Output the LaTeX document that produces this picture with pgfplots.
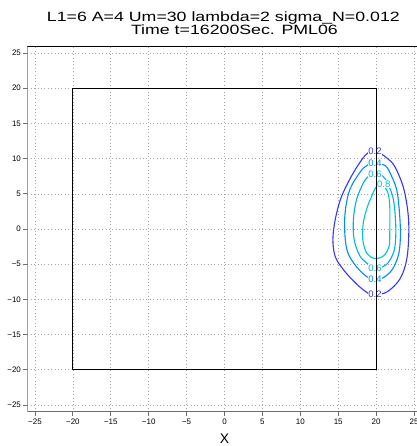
\documentclass[border=0pt]{standalone}
\usepackage{fontspec}
\setmainfont{Liberation Sans}
\newfontfamily\titlefont[FakeStretch=1.32]{Liberation Sans}
\usepackage{pgfplots}
\pgfplotsset{compat=1.18}

\definecolor{cA}{RGB}{55,55,240}
\definecolor{cB}{RGB}{0,140,245}
\definecolor{cC}{RGB}{0,175,230}
\definecolor{cD}{RGB}{0,200,195}
\definecolor{spine}{RGB}{110,110,110}

\begin{document}
\begin{tikzpicture}
\begin{axis}[
  scale only axis,
  width=394.2bp, height=366bp,
  xmin=-26, xmax=26, ymin=-26, ymax=26,
  axis line style={draw=none},
  xtick={-25,-20,...,25}, ytick={-25,-20,...,25},
  xticklabels={−25,−20,−15,−10,−5,0,5,10,15,20,25},
  yticklabels={−25,−20,−15,−10,−5,0,5,10,15,20,25},
  tick pos=left, tick align=outside,
  major tick length=4bp,
  every tick/.style={spine, line width=0.8bp},
  ticklabel style={font=\fontsize{8}{9}\selectfont},
  xticklabel style={yshift=1bp},
  yticklabel style={xshift=1bp},
  grid=major,
  major grid style={gray!70, line width=0.6bp, dash pattern=on 0.8bp off 2.6bp},
  every axis plot/.append style={line width=1.1bp},
  clip=true,
]
% contour of the field, levels 0.2 ... 0.8
\addplot[cA, smooth cycle, tension=0.55] coordinates {
 (19.85,11.1) (21.4,10.1) (22.5,8.8) (23.7,5.5) (24.3,1.0) (24.1,-3.9)
 (23.2,-7.0) (21.5,-8.9) (19.85,-9.35) (18.9,-9.1) (17.4,-7.8) (15.7,-5.8)
 (14.6,-3.9) (14.3,-1.5) (14.6,1.3) (15.4,4.5) (16.9,7.8) (18.6,10.5)};
\addplot[cB, smooth cycle, tension=0.55] coordinates {
 (19.85,9.3) (21.2,9.0) (22.0,7.6) (22.8,5.1) (23.2,0.1) (23.0,-3.45)
 (22.1,-5.8) (20.8,-7.0) (19.85,-7.1) (18.8,-6.8) (17.4,-5.35) (16.3,-3.45)
 (15.9,-1.1) (15.9,2.2) (16.5,5.5) (17.9,8.1) (18.9,9.1)};
\addplot[cC, smooth cycle, tension=0.55] coordinates {
 (19.85,7.85) (20.9,7.5) (21.6,6.3) (22.3,4.1) (22.6,0.1) (22.4,-3.0)
 (21.5,-4.9) (20.4,-5.55) (19.85,-5.6) (19.2,-5.2) (17.9,-3.9) (17.1,-1.5)
 (17.0,1.3) (17.4,4.1) (18.3,6.5) (19.1,7.6)};
\addplot[cD, smooth cycle, tension=0.55] coordinates {
 (20.6,6.4) (21.5,5.3) (21.8,3.2) (21.8,-0.6) (21.7,-2.5) (21.0,-3.8)
 (19.85,-4.2) (18.8,-3.5) (18.25,-1.6) (18.3,0.8) (18.8,3.0) (19.4,4.6)
 (19.9,5.8)};
% contour labels
\begin{scope}[every node/.style={fill=white, inner sep=0.3bp, font=\fontsize{9.5}{9.5}\selectfont}]
\node[text=cA] at (axis cs:19.85,11.1) {0.2};
\node[text=cB] at (axis cs:19.85,9.3) {0.4};
\node[text=cC] at (axis cs:19.85,7.85) {0.6};
\node[text=cD] at (axis cs:21.0,6.4) {0.8};
\node[text=cC] at (axis cs:19.85,-5.55) {0.6};
\node[text=cB] at (axis cs:19.85,-7.1) {0.4};
\node[text=cA] at (axis cs:19.85,-9.3) {0.2};
\end{scope}
% domain boundary
\addplot[black, line width=0.8bp] coordinates {(-20,-20) (20,-20) (20,20) (-20,20) (-20,-20)};
% frame
\draw[spine, line width=1.6bp] (rel axis cs:0,1) -- (rel axis cs:0,0) -- (rel axis cs:1,0);
\draw[black, line width=0.8bp] (rel axis cs:0,1) -- (rel axis cs:1,1);
\end{axis}
\node[anchor=base, font=\titlefont\fontsize{13.5}{14}\selectfont] at (196bp,390.3bp) {L1=6 A=4 Um=30 lambda=2 sigma\_N=0.012};
\node[anchor=base, font=\titlefont\fontsize{13.5}{14}\selectfont] at (207bp,377bp) {Time t=16200Sec. PML06};
\node[anchor=base, font=\fontsize{14}{14}\selectfont] at (197.1bp,-31bp) {X};
\pgfresetboundingbox
\useasboundingbox (-27.4bp,-34bp) rectangle (389.6bp,412bp);
\end{tikzpicture}
\end{document}
